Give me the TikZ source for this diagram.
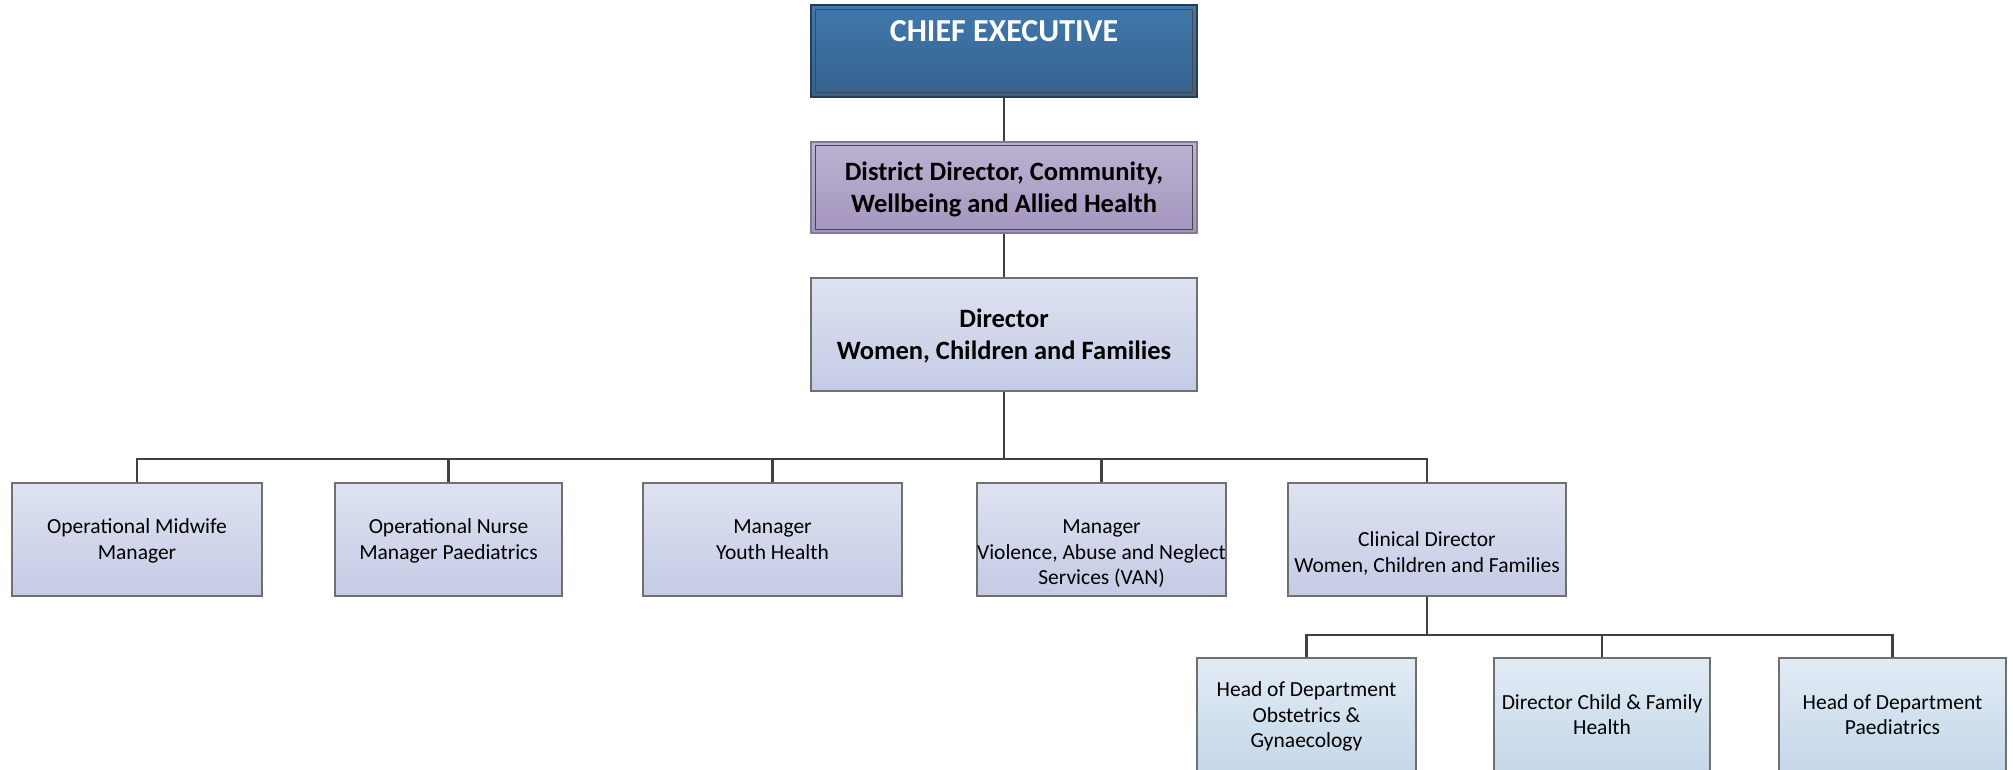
\documentclass[tikz,border=0pt]{standalone}
\usepackage{fontspec}
\setmainfont{Carlito}
\newcommand\regtop{\rule{0pt}{19.5pt}}
\newcommand\regbot{\rule[-5.5pt]{0pt}{5.5pt}}
\newcommand\bldtop{\rule{0pt}{23pt}}
\newcommand\bldbot{\rule[-6pt]{0pt}{6pt}}
\definecolor{chiefTop}{RGB}{64,121,172}
\definecolor{chiefBot}{RGB}{52,97,141}
\definecolor{chiefLine}{RGB}{40,60,85}
\definecolor{distTop}{RGB}{188,178,210}
\definecolor{distBot}{RGB}{164,150,190}
\definecolor{distLine}{RGB}{130,122,145}
\definecolor{boxTop}{RGB}{222,226,241}
\definecolor{boxBot}{RGB}{196,203,228}
\definecolor{subTop}{RGB}{226,235,245}
\definecolor{subBot}{RGB}{196,215,232}
\definecolor{boxLine}{RGB}{112,112,112}
\definecolor{connCol}{RGB}{64,64,64}
\tikzset{
  orgbox/.style={draw=boxLine, line width=1.3pt, inner sep=0pt, align=center},
  regtext/.style={font=\fontsize{21.5}{25.5}\selectfont},
  boldtext/.style={font=\fontsize{26.5}{32}\selectfont\bfseries},
  chiefbox/.style={orgbox, top color=chiefTop, bottom color=chiefBot, draw=chiefLine,
    text=white, font=\fontsize{32}{39}\selectfont\bfseries},
  distbox/.style={orgbox, boldtext, top color=distTop, bottom color=distBot, draw=distLine},
  mainbox/.style={orgbox, top color=boxTop, bottom color=boxBot},
  subbox/.style={orgbox, regtext, top color=subTop, bottom color=subBot},
  innerline/.style={draw=black!72, line width=1.3pt},
  conn/.style={draw=connCol, line width=2.8pt},
}
\begin{document}
\begin{tikzpicture}[x=1pt,y=-1pt]
\useasboundingbox (0,0) rectangle (2013,769);

% top chain
\node[chiefbox, minimum width=386, minimum height=92] (chief) at (1004,51)
  {\rule[-40pt]{0pt}{61pt}CHIEF EXECUTIVE};
\draw[innerline] ([xshift=5pt,yshift=-5pt]chief.north west) rectangle ([xshift=-5pt,yshift=5pt]chief.south east);

\node[distbox, minimum width=386, minimum height=91] (district) at (1004,187.5)
  {\bldtop District Director, Community,\\Wellbeing and Allied Health\bldbot};
\draw[innerline] ([xshift=5pt,yshift=-4pt]district.north west) rectangle ([xshift=-5pt,yshift=4pt]district.south east);

\node[mainbox, boldtext, minimum width=386, minimum height=113] (director) at (1004,334.5)
  {\bldtop Director\\Women, Children and Families\bldbot};

% second row
\node[mainbox, regtext, minimum width=250, minimum height=113] (b1) at (137,539.5)
  {\regtop Operational Midwife\\Manager\regbot};
\node[mainbox, regtext, minimum width=227, minimum height=113] (b2) at (448.5,539.5)
  {\regtop Operational Nurse\\Manager Paediatrics\regbot};
\node[mainbox, regtext, minimum width=259, minimum height=113] (b3) at (772.5,539.5)
  {\regtop Manager\\Youth Health\regbot};
\node[mainbox, regtext, minimum width=249, minimum height=113] (b4) at (1101.5,539.5)
  {\regtop\\Manager\\Violence, Abuse and Neglect\\Services (VAN)\regbot};
\node[mainbox, regtext, minimum width=278, minimum height=113] (b5) at (1427,539.5)
  {\regtop\\Clinical Director\\Women, Children and Families\regbot};

% third row
\node[subbox, minimum width=219, minimum height=114] (c1) at (1306.5,715)
  {\regtop Head of Department\\Obstetrics \&\\Gynaecology\regbot};
\node[subbox, minimum width=216, minimum height=114] (c2) at (1602,715)
  {\regtop Director Child \& Family\\Health\regbot};
\node[subbox, minimum width=227, minimum height=114] (c3) at (1892.5,715)
  {\regtop Head of Department\\Paediatrics\regbot};

% connectors
\coordinate (bus1) at (1004,459);
\coordinate (bus2) at (1427,635);
\draw[conn] (chief.south) -- (district.north);
\draw[conn] (district.south) -- (director.north);
\draw[conn] (director.south) -- (bus1);
\foreach \n in {b1,b2,b3,b4,b5}{
  \draw[conn] (bus1) -| (\n.north);
}
\draw[conn] (b5.south) -- (bus2);
\foreach \n in {c1,c2,c3}{
  \draw[conn] (bus2) -| (\n.north);
}
\end{tikzpicture}
\end{document}
